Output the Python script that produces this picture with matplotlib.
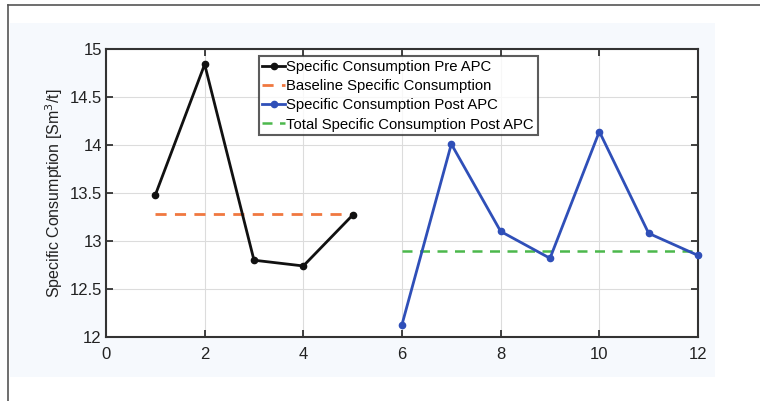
import matplotlib
matplotlib.use("Agg")
import matplotlib.pyplot as plt
from matplotlib.patches import Rectangle
from matplotlib.lines import Line2D

# ── data ─────────────────────────────────────────────────────────────────────
pre_x = [1, 2, 3, 4, 5]
pre_y = [13.48, 14.84, 12.80, 12.74, 13.27]
baseline_x = [1, 5]
baseline_y = [13.28, 13.28]
post_x = [6, 7, 8, 9, 10, 11, 12]
post_y = [12.13, 14.01, 13.10, 12.82, 14.14, 13.08, 12.85]
total_x = [6, 12]
total_y = [12.90, 12.90]

x_ticks = [0, 2, 4, 6, 8, 10, 12]
y_ticks = [12, 12.5, 13, 13.5, 14, 14.5, 15]
y_ticklabels = ["12", "12.5", "13", "13.5", "14", "14.5", "15"]

plt.rcParams["font.family"] = ["Liberation Sans", "DejaVu Sans"]

fig = plt.figure(figsize=(7.6, 4.01), dpi=100)
fig.patch.set_facecolor("white")

# light panel behind the axes and the outer page frame
fig.patches.append(Rectangle((10 / 760, 24 / 401), 705 / 760, 354 / 401,
                             transform=fig.transFigure, facecolor="#f6f9fd",
                             edgecolor="none", zorder=-5))
fig.add_artist(Line2D([8 / 760, 1], [1 - 5 / 401, 1 - 5 / 401],
                      transform=fig.transFigure, color="#555555", lw=1.2))
fig.add_artist(Line2D([8 / 760, 8 / 760], [0, 1 - 5 / 401],
                      transform=fig.transFigure, color="#555555", lw=1.2))

ax = fig.add_axes([106 / 760, 64 / 401, 592 / 760, 288 / 401])
ax.set_zorder(2)
ax.set_facecolor("white")

ax.plot(pre_x, pre_y, color="#111111", lw=2, marker="o", ms=4.5,
        label="Specific Consumption Pre APC", zorder=3, clip_on=False)
ax.plot(baseline_x, baseline_y, color="#f07840", lw=2, ls=(0, (4, 3)),
        label="Baseline Specific Consumption", zorder=2)
ax.plot(post_x, post_y, color="#2f4fb8", lw=2, marker="o", ms=4.5,
        label="Specific Consumption Post APC", zorder=3, clip_on=False)
ax.plot(total_x, total_y, color="#4cb84c", lw=1.8, ls=(0, (4, 3)),
        label="Total Specific Consumption Post APC", zorder=2)

ax.set_xlim(0, 12)
ax.set_ylim(12, 15)
ax.set_xticks(x_ticks)
ax.set_yticks(y_ticks)
ax.set_yticklabels(y_ticklabels)
ax.tick_params(direction="in", top=True, right=True, length=5, width=1.2,
               labelsize=12, colors="#222222")
ax.tick_params(axis="x", pad=7)
ax.tick_params(axis="y", pad=3)
ax.grid(True, color="#dcdcdc", lw=0.8)
for sp in ax.spines.values():
    sp.set_linewidth(1.5)
    sp.set_color("#333333")

ax.set_ylabel("Specific Consumption [Sm$^3$/t]", fontsize=11.5, color="#222222",
              labelpad=3)

leg = ax.legend(loc="upper left", bbox_to_anchor=(0.258, 0.975), fontsize=10.7,
                frameon=True, fancybox=False, borderpad=0.25, labelspacing=0.35,
                handlelength=1.5, handletextpad=0.1, borderaxespad=0)
leg.get_frame().set_edgecolor("#333333")
leg.get_frame().set_linewidth(1.5)

fig.savefig("out.png", dpi=100)
